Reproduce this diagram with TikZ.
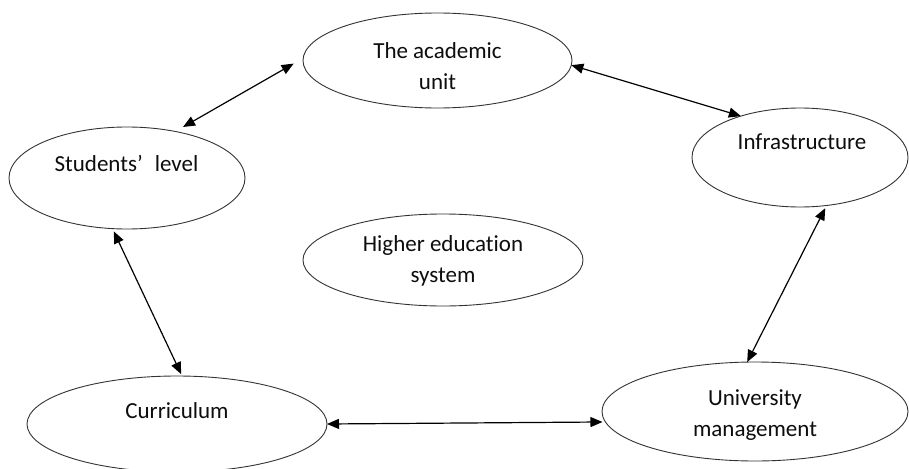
\documentclass[tikz,border=0pt]{standalone}
\usepackage{fontspec}
\setmainfont{Carlito}[Ligatures={NoCommon}]
\usetikzlibrary{arrows.meta,shapes.geometric}
\begin{document}
\begin{tikzpicture}[x=1pt,y=-1pt,
  ell/.style={draw=black!80, line width=0.9pt, ellipse, inner sep=0pt, outer sep=0pt},
  lbl/.style={font=\fontsize{23}{31}\selectfont, align=center, inner sep=0pt, text=black!95},
  link/.style={line width=1.2pt, {Triangle[length=12pt,width=10pt]}-{Triangle[length=12pt,width=10pt]}}]
\useasboundingbox (0,0) rectangle (909,468);
\fill[white] (0,0) rectangle (909,468);
% ellipses
\node[ell, minimum width=269pt, minimum height=95pt] (au) at (437.5,60.5) {};
\node[ell, minimum width=236pt, minimum height=102pt] (su) at (127,178) {};
\node[ell, minimum width=216pt, minimum height=99pt] (in) at (800,157.5) {};
\node[ell, minimum width=280pt, minimum height=92pt] (he) at (443,260) {};
\node[ell, minimum width=300pt, minimum height=96pt] (cu) at (177,424) {};
\node[ell, minimum width=306pt, minimum height=99pt] (um) at (755,411.5) {};
% labels
\node[lbl] (aut) at (437.5,66) {The academic\\unit};
\node[lbl] (sut) at (126.5,163) {Students’\hspace{0.3em} level};
\node[lbl] (int) at (802,142) {Infrastructure};
\node[lbl] (het) at (443,261) {Higher education\\system};
\node[lbl] (cut) at (177,411) {Curriculum};
\node[lbl] (umt) at (755,415) {University\\management};
% connectors
\draw[link, shorten <=9pt, shorten >=11pt] (su.44) -- (au.179.5);
\draw[link] (au.-2) -- (in.145);
\draw[link, shorten <=3pt] (in.-61) -- (um.99);
\draw[link, shorten >=3pt] (cu.0) -- (um.184);
\draw[link, shorten <=3pt, shorten >=2pt] (su.-106) -- (cu.84);
\end{tikzpicture}
\end{document}
